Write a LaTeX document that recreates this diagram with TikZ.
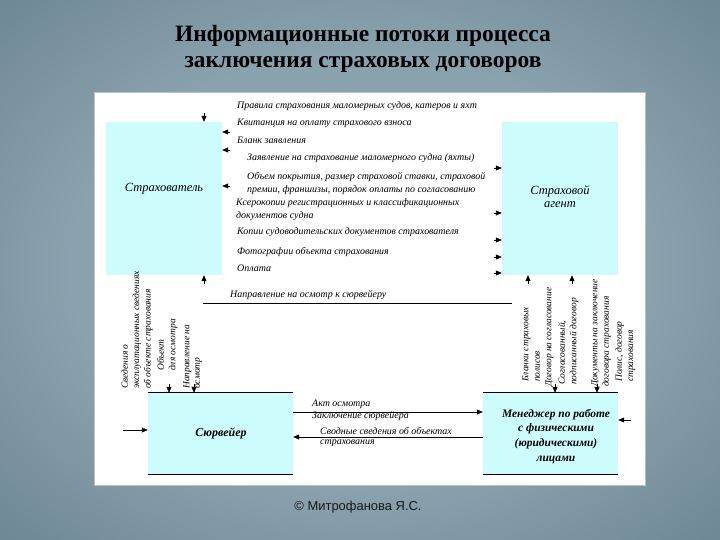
\documentclass[tikz,border=0pt]{standalone}
\usepackage{fontspec}
\setmainfont{Liberation Serif}
\newfontfamily\footfont{Liberation Sans}
\usetikzlibrary{arrows.meta}
\definecolor{boxcyan}{RGB}{204,252,252}
\definecolor{bginner}{RGB}{138,162,174}
\definecolor{bgouter}{RGB}{66,93,108}
\pgfdeclareradialshading{bgshade}{\pgfpoint{0bp}{0bp}}{color(0bp)=(bginner); color(20bp)=(bginner); color(60bp)=(bgouter); color(80bp)=(bgouter)}
\begin{document}
\begin{tikzpicture}[x=1bp,y=-1bp,
  lbl/.style={font=\itshape\fontsize{10}{13}\selectfont, anchor=west, inner sep=0pt, align=left},
  vlbl/.style={font=\itshape\fontsize{9.5}{11.5}\selectfont, rotate=90, anchor=north west, inner sep=0pt, align=left},
  cbox/.style={fill=boxcyan, draw=none, inner sep=0pt},
  tip/.style={-{Triangle[length=6bp,width=5bp]}, line width=0.6bp},
  hline/.style={line width=0.9bp}
]
\useasboundingbox (0,0) rectangle (720,540);
\shade[shading=bgshade] (0,0) rectangle (720,540);
\fill[white] (94,93) rectangle (645,485);
\draw[black!25, line width=1bp] (94,93) rectangle (645,485);

% title and footer
\node[font=\bfseries\fontsize{23.5}{26}\selectfont, align=center] (title) at (363,49) {Информационные потоки процесса\\заключения страховых договоров};
\node[font=\footfont\fontsize{13}{15}\selectfont, text=black!90] (foot) at (358,507) {© Митрофанова Я.С.};

% boxes
\node[cbox, minimum width=116bp, minimum height=153bp] (strah) at (164,198.5) {};
\node[font=\itshape\fontsize{12.5}{14}\selectfont] (strahT) at (164,189) {Страхователь};
\node[cbox, minimum width=116bp, minimum height=153bp] (agent) at (560,198.5) {};
\node[font=\itshape\fontsize{12.5}{13}\selectfont, align=center] (agentT) at (560,197) {Страховой\\агент};
\node[cbox, minimum width=145bp, minimum height=81bp] (surv) at (220.5,433.5) {};
\node[font=\bfseries\itshape\fontsize{12}{14}\selectfont] (survT) at (221,433) {Сюрвейер};
\node[cbox, minimum width=135bp, minimum height=81bp] (manag) at (550.5,433.5) {};
\node[font=\bfseries\itshape\fontsize{11.5}{15}\selectfont, align=center] (managT) at (556,436.5) {Менеджер по работе\\с физическими\\(юридическими)\\лицами};
\draw[hline] (surv.north west) -- (surv.north east);
\draw[hline] (surv.south west) -- (surv.south east);
\draw[hline] (manag.north west) -- (manag.north east);
\draw[hline] (manag.south west) -- (manag.south east);

% top list
\node[lbl] (t1) at (237,106) {Правила страхования маломерных судов, катеров и яхт};
\node[lbl] (t2) at (237,123) {Квитанция на оплату страхового взноса};
\node[lbl] (t3) at (237,140) {Бланк заявления};
\node[lbl] (t4) at (247,158) {Заявление на страхование маломерного судна (яхты)};
\node[lbl] (t5) at (247,183.5) {Объем покрытия, размер страховой ставки, страховой\\премии, франшизы, порядок оплаты по согласованию};
\node[lbl] (t6) at (236,210) {Ксерокопии регистрационных и классификационных\\документов судна};
\node[lbl] (t7) at (237,232) {Копии судоводительских документов страхователя};
\node[lbl] (t8) at (237,252) {Фотографии объекта страхования};
\node[lbl] (t9) at (237,268) {Оплата};

% arrows into Страхователь
\coordinate (s1) at (230,132);
\coordinate (s2) at (230,150);
\coordinate (s3) at (230,186);
\coordinate (s4) at (204,113);
\coordinate (s5) at (204,284);
\foreach \c in {s1,s2,s3} \draw[tip] (\c) -- (\c -| strah.east);
\draw[tip] (s4) -- (s4 |- strah.north);
\draw[tip] (s5) -- (s5 |- strah.south);

% arrows into Страховой агент
\coordinate (g1) at (494,168);
\coordinate (g2) at (494,213);
\coordinate (g3) at (494,240);
\coordinate (g4) at (494,257);
\coordinate (g5) at (494,273);
\foreach \c in {g1,g2,g3,g4,g5} \draw[tip] (\c) -- (\c -| agent.west);
\coordinate (g6) at (528,284);
\coordinate (g7) at (572,284);
\foreach \c in {g6,g7} \draw[tip] (\c) -- (\c |- agent.south);

% direction to surveyor
\node[lbl] (dir) at (230,295) {Направление на осмотр к сюрвейеру};
\coordinate (d1) at (203,303);
\coordinate (d2) at (512,303);
\draw[line width=0.8bp] (d1) -- (d2);

% left vertical labels
\node[vlbl] (v1) at (121,389) {Сведения о\\эксплуатационных сведениях\\об объекте страхования};
\node[vlbl] (v2) at (157,371) {Объект\\для осмотра};
\node[vlbl, font=\itshape\fontsize{9.5}{10.5}\selectfont] (v3) at (183,389) {Направление на\\осмотр};
\coordinate (u1) at (169,384);
\coordinate (u2) at (194,384);
\foreach \c in {u1,u2} \draw[tip] (\c) -- (\c |- surv.north);

% right vertical labels
\node[vlbl] (r1) at (522,382) {Бланки страховых\\полисов};
\node[vlbl] (r2) at (545,387) {Договор на согласование};
\node[vlbl] (r3) at (558,385) {Согласованный,\\подписанный договор};
\node[vlbl] (r4) at (591,387) {Документы на заключение\\договора страхования};
\node[vlbl] (r5) at (615,382) {Полис, договор\\страхования};
\coordinate (m1) at (555,384);
\coordinate (m2) at (597,384);
\foreach \c in {m1,m2} \draw[tip] (\c) -- (\c |- manag.north);

% side arrows
\coordinate (w1) at (123,430);
\draw[tip] (w1) -- (w1 -| surv.west);
\coordinate (e1) at (631,420);
\draw[tip] (e1) -- (e1 -| manag.east);

% flows between surveyor and manager
\coordinate (f1) at (300,412);
\coordinate (f2) at (300,437);
\draw[tip] (f1 -| surv.east) -- (f1 -| manag.west);
\draw[tip] (f2 -| manag.west) -- (f2 -| surv.east);
\node[lbl] (fl1) at (312,404) {Акт осмотра};
\node[lbl] (fl2) at (312,416.5) {Заключение сюрвейера};
\node[lbl] (fl3) at (320,430.5) {Сводные сведения об объектах};
\node[lbl] (fl4) at (320,443) {страхования};
\end{tikzpicture}
\end{document}
